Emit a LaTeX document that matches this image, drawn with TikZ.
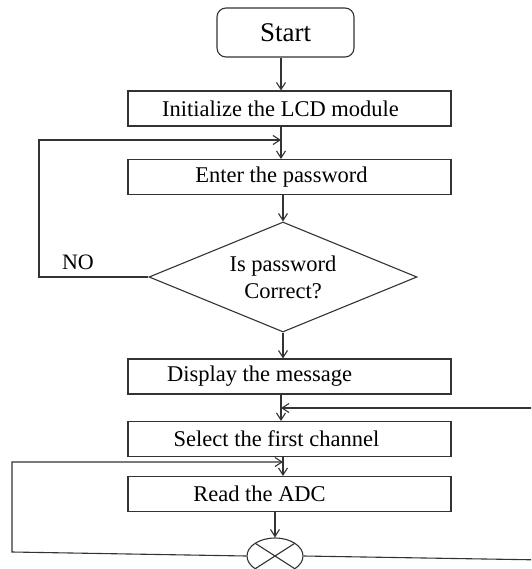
\documentclass[tikz,border=0pt]{standalone}
\usepackage{fontspec}
\setmainfont{Liberation Serif}
\usetikzlibrary{arrows.meta,shapes.geometric}

\begin{document}
\begin{tikzpicture}[x=1pt,y=-1pt,
  txt/.style={font=\fontsize{22.5}{27}\selectfont},
  box/.style={rectangle,draw=black!80,line width=1.1pt,minimum width=323pt,minimum height=35pt,inner sep=0pt,txt},
  term/.style={rectangle,rounded corners=9pt,draw=black!80,line width=1.1pt,minimum width=137pt,minimum height=49pt,inner sep=0pt,font=\fontsize{27}{32}\selectfont},
  test/.style={diamond,aspect=2.44,draw=black!80,line width=1.1pt,minimum width=268pt,minimum height=110pt,inner sep=0pt,align=center,txt},
  junct/.style={ellipse,draw=black!80,line width=1.1pt,minimum width=56pt,minimum height=36pt,inner sep=0pt,
    path picture={\draw[black!80,line width=1.1pt] (path picture bounding box.north west) -- (path picture bounding box.south east)
      (path picture bounding box.south west) -- (path picture bounding box.north east);}},
  flow/.style={draw=black!80,line width=1.1pt,-{Straight Barb[length=7pt,width=9pt]}},
  line/.style={draw=black!80,line width=1.1pt}
]
\path[use as bounding box,clip] (0,0) rectangle (531,569);

\node[term] (start) at (285.5,32.5) {Start};
\node[box,label={[txt,xshift=-9pt]center:Initialize the LCD module}] (init) at (289.5,108.5) {};
\node[box,label={[txt,xshift=-8pt]center:Enter the password}] (enter) at (289.5,177) {};
\node[test] (check) at (283,277) {Is password\\Correct?};
\node[box,label={[txt,xshift=-30pt]center:Display the message}] (display) at (289.5,376.5) {};
\node[box,label={[txt,xshift=-13pt]center:Select the first channel}] (select) at (289.5,439) {};
\node[box,label={[txt,xshift=-30pt]center:Read the ADC}] (readadc) at (289.5,494) {};
\node[junct] (sumj) at (275,556) {};
\node[font=\fontsize{22}{26}\selectfont] (no) at (78,262) {NO};

\coordinate (j1) at (281,140);
\coordinate (j2) at (281,408);
\coordinate (j3) at (283,462);
\coordinate (lp1) at (39,140);
\coordinate (lp2) at (12,552);
\coordinate (rin) at (545,408);
\coordinate (rout) at (545,560);

\draw[flow] (start.south -| j1) -- (init.north -| j1);
\draw[flow] (init.south -| j1) -- (enter.north -| j1);
\draw[flow] (enter.south -| check) -- (check.north);
\draw[flow] (check.south) -- (check.south |- display.north);
\draw[flow] (display.south -| j2) -- (select.north -| j2);
\draw[flow] (select.south -| j3) -- (readadc.north -| j3);
\draw[flow] (readadc.south -| sumj) -- (sumj.north);

% loops
\draw[flow] (check.west) -| (lp1) -- (j1);
\draw[flow] (rin) -- (j2);
\draw[flow] (sumj.west) -- (lp2) |- (j3);
\draw[line] (sumj.east) -- (rout);
\end{tikzpicture}
\end{document}
